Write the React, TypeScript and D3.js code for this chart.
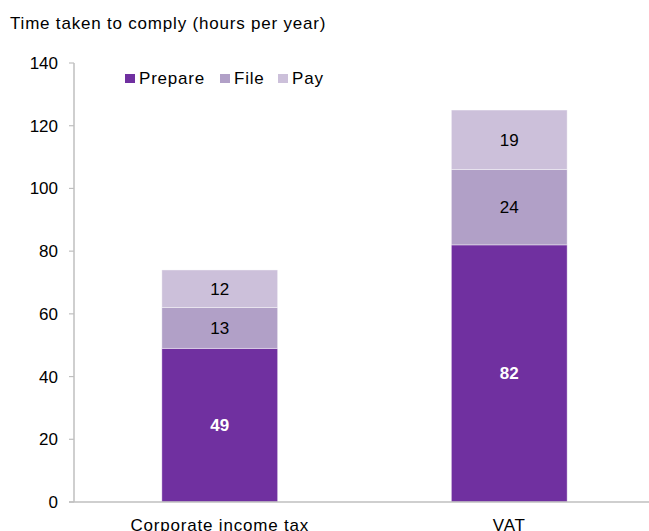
import React, { useEffect, useRef } from 'react';
import * as d3 from 'd3';

const categories = ['Corporate income tax', 'VAT'];
const seriesNames = ['Prepare', 'File', 'Pay'];
const prepare = [49, 82];
const file = [13, 24];
const pay = [12, 19];
const yTicks = [0, 20, 40, 60, 80, 100, 120, 140];
const colors = ['#7030A0', '#B1A0C7', '#CCC0DA'];

export default function App() {
  const svgRef = useRef<SVGSVGElement>(null);

  useEffect(() => {
    if (!svgRef.current) return;
    const svg = d3.select(svgRef.current);
    svg.selectAll('*').remove();

    const width = 649;
    const height = 531;
    const margin = { left: 75, right: -5, top: 63, bottom: 29 };

    svg.attr('width', width).attr('height', height).style('font-family', 'Liberation Sans, Arial, sans-serif');

    const x = d3.scaleBand<string>()
      .domain(categories)
      .range([margin.left, width - margin.right])
      .paddingInner(0.6)
      .paddingOuter(0.3);

    const y = d3.scaleLinear().domain([0, 140]).range([height - margin.bottom, margin.top]);

    const rows = categories.map((c, i) => ({ category: c, Prepare: prepare[i], File: file[i], Pay: pay[i] }));
    const stack = d3.stack<any>().keys(seriesNames)(rows);

    // title
    svg.append('text')
      .attr('x', 10)
      .attr('y', 29)
      .attr('fill', '#000')
      .style('font-size', '17px')
      .style('letter-spacing', '0.8px')
      .text('Time taken to comply (hours per year)');

    // y axis
    const axisColor = '#BFBFBF';
    svg.append('line')
      .attr('x1', margin.left - 1).attr('x2', margin.left - 1)
      .attr('y1', y(140)).attr('y2', y(0))
      .attr('stroke', axisColor).attr('stroke-width', 1.5);

    yTicks.forEach(t => {
      svg.append('line')
        .attr('x1', margin.left - 6).attr('x2', margin.left - 1)
        .attr('y1', y(t)).attr('y2', y(t))
        .attr('stroke', axisColor).attr('stroke-width', 1.2);
      svg.append('text')
        .attr('x', 58)
        .attr('y', y(t))
        .attr('dy', '0.35em')
        .attr('text-anchor', 'end')
        .style('font-size', '17px')
        .attr('fill', '#000')
        .text(t);
    });

    // bars
    stack.forEach((layer, si) => {
      svg.append('g')
        .selectAll('rect')
        .data(layer)
        .join('rect')
        .attr('x', d => x(d.data.category)!)
        .attr('width', x.bandwidth())
        .attr('y', d => y(d[1]))
        .attr('height', d => y(d[0]) - y(d[1]))
        .attr('fill', colors[si])
        .attr('stroke', 'rgba(255,255,255,0.5)')
        .attr('stroke-width', 0.8);

      svg.append('g')
        .selectAll('text')
        .data(layer)
        .join('text')
        .attr('x', d => x(d.data.category)! + x.bandwidth() / 2)
        .attr('y', d => (y(d[0]) + y(d[1])) / 2)
        .attr('dy', '0.35em')
        .attr('text-anchor', 'middle')
        .attr('fill', si === 0 ? '#fff' : '#000')
        .style('font-size', '17px')
        .style('font-weight', si === 0 ? 'bold' : 'normal')
        .text(d => d[1] - d[0]);
    });

    // x axis
    svg.append('line')
      .attr('x1', margin.left - 6).attr('x2', width)
      .attr('y1', y(0)).attr('y2', y(0))
      .attr('stroke', axisColor).attr('stroke-width', 1.5);

    categories.forEach(c => {
      svg.append('text')
        .attr('x', x(c)! + x.bandwidth() / 2)
        .attr('y', y(0) + 29)
        .attr('text-anchor', 'middle')
        .style('font-size', '17px')
        .style('letter-spacing', '0.8px')
        .attr('fill', '#000')
        .text(c);
    });

    // legend
    const legendX = [125, 220, 278];
    seriesNames.forEach((s, i) => {
      svg.append('rect')
        .attr('x', legendX[i]).attr('y', 74)
        .attr('width', 10).attr('height', 9)
        .attr('fill', colors[i]);
      svg.append('text')
        .attr('x', legendX[i] + 14)
        .attr('y', 84)
        .style('font-size', '17px')
        .style('letter-spacing', '0.8px')
        .attr('fill', '#000')
        .text(s);
    });
  }, []);

  return (
    <div style={{ position: 'absolute', left: 0, top: 0, background: '#fff' }}>
      <svg ref={svgRef} style={{ display: 'block' }} />
    </div>
  );
}
